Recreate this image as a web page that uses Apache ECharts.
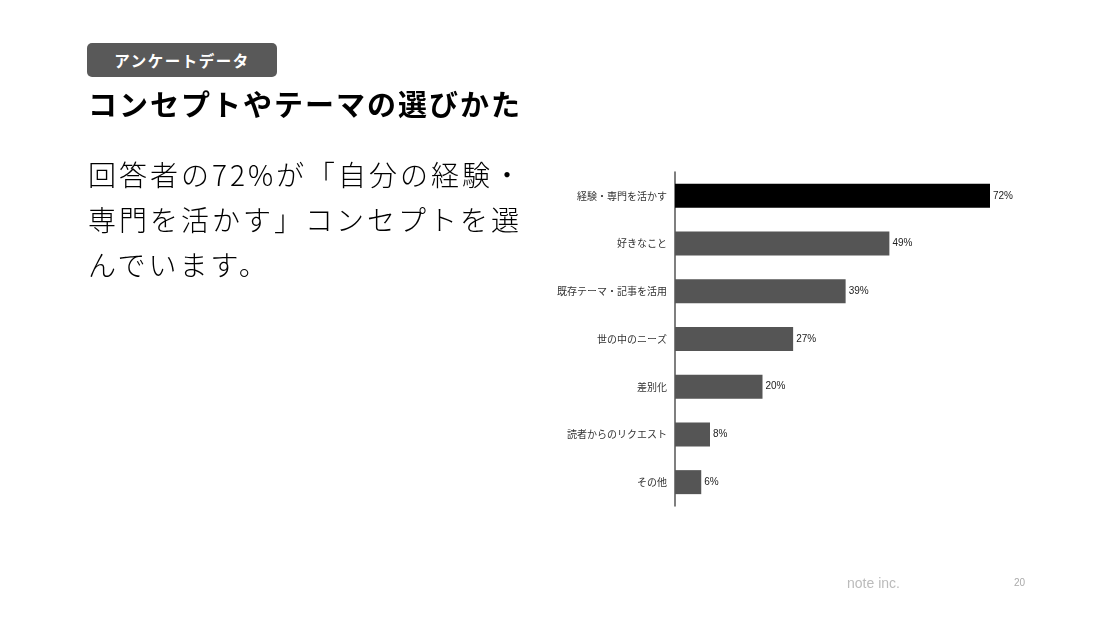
<!DOCTYPE html>
<html>
<head>
<meta charset="utf-8">
<script src="https://cdn.jsdelivr.net/npm/echarts@6/dist/echarts.min.js"></script>
<style>
    html, body { margin: 0; padding: 0; background: #fff; }
    body { width: 1108px; height: 619px; position: relative; overflow: hidden;
           font-family: "Noto Sans CJK JP", "Noto Sans", sans-serif; }
    #chart { position: absolute; left: 0; top: 0; width: 1108px; height: 619px; }
    .badge { position: absolute; left: 87px; top: 43px; width: 190px; height: 34px;
             background: #595959; border-radius: 5px; color: #fff; font-weight: bold;
             font-size: 15.5px; line-height: 34px; text-align: center; letter-spacing: 1.5px; }
    .title { position: absolute; left: 88px; top: 82px; font-size: 29px; font-weight: bold;
             color: #000; letter-spacing: 2px; white-space: nowrap; }
    .lead { position: absolute; left: 88px; top: 152px; font-size: 28px; color: #000;
            line-height: 45px; letter-spacing: 3px; font-weight: 300; white-space: nowrap; }
    .foot { position: absolute; left: 847px; top: 575px; font-size: 14px; color: #bbb;
            font-family: "Liberation Sans", Arial, sans-serif; }
    .page { position: absolute; left: 1014px; top: 577px; font-size: 10px; color: #aaa;
            font-family: "Liberation Sans", Arial, sans-serif; }
</style>
</head>
<body>
<div id="chart"></div>
<div class="badge">アンケートデータ</div>
<div class="title">コンセプトやテーマの選びかた</div>
<div class="lead">回答者の72%が「自分の経験・<br>専門を活かす」コンセプトを選<br>んでいます。</div>
<div class="foot">note inc.</div>
<div class="page">20</div>
<script>
    var categories = ['経験・専門を活かす', '好きなこと', '既存テーマ・記事を活用', '世の中のニーズ', '差別化', '読者からのリクエスト', 'その他'];
    var values = [72, 49, 39, 27, 20, 8, 6];
    var highlightIndex = 0;

    var chart = echarts.init(document.getElementById('chart'));
    var option = {
        animation: false,
        grid: {
            left: 675,
            top: 172,
            width: 350,
            height: 334
        },
        xAxis: {
            type: 'value',
            min: 0,
            max: 80,
            show: false
        },
        yAxis: {
            type: 'category',
            inverse: true,
            data: categories,
            axisLine: {
                lineStyle: { color: '#555', width: 1.5 }
            },
            axisTick: {
                alignWithLabel: true,
                length: 4,
                lineStyle: { color: '#777' }
            },
            axisLabel: {
                color: '#333',
                fontSize: 10,
                margin: 8,
                fontFamily: 'Noto Sans CJK JP'
            }
        },
        series: [
            {
                type: 'bar',
                barWidth: 24,
                data: values.map(function (v, i) {
                    return {
                        value: v,
                        itemStyle: { color: i === highlightIndex ? '#000' : '#555' }
                    };
                }),
                label: {
                    show: true,
                    position: 'right',
                    distance: 3,
                    color: '#222',
                    fontSize: 10,
                    fontFamily: 'Liberation Sans',
                    formatter: '{c}%'
                }
            }
        ]
    };
    chart.setOption(option);
</script>
</body>
</html>
